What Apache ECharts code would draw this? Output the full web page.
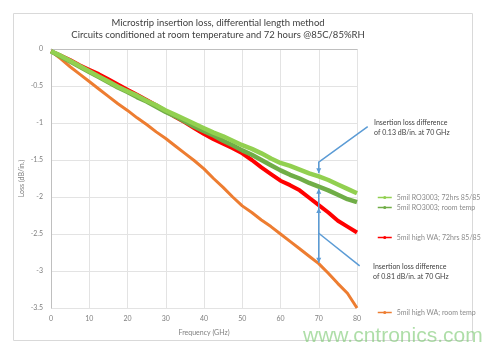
<!DOCTYPE html>
<html><head><meta charset="utf-8">
<script src="https://cdn.jsdelivr.net/npm/echarts@6/dist/echarts.min.js"></script>
<style>html,body{margin:0;padding:0;background:#fff}#c{width:489px;height:352px}</style>
</head><body><div id="c"></div>
<script>
const freq = [0,2.5,5,7.5,10,12.5,15,17.5,20,22.5,25,27.5,30,32.5,35,37.5,40,42.5,45,47.5,50,52.5,55,57.5,60,62.5,65,67.5,70,72.5,75,77.5,80];
const seriesNames = ['5mil RO3003; 72hrs 85/85','5mil RO3003; room temp','5mil high WA; 72hrs 85/85','5mil high WA; room temp'];
const ro72 = [-0.03,-0.09,-0.16,-0.23,-0.30,-0.37,-0.44,-0.51,-0.57,-0.63,-0.70,-0.76,-0.83,-0.89,-0.95,-1.01,-1.07,-1.13,-1.18,-1.24,-1.30,-1.35,-1.41,-1.48,-1.54,-1.58,-1.63,-1.68,-1.72,-1.77,-1.83,-1.89,-1.95];
const roRoom = [-0.03,-0.10,-0.17,-0.24,-0.31,-0.38,-0.45,-0.52,-0.58,-0.65,-0.71,-0.78,-0.85,-0.91,-0.98,-1.05,-1.11,-1.17,-1.24,-1.30,-1.37,-1.43,-1.50,-1.57,-1.64,-1.70,-1.75,-1.81,-1.86,-1.91,-1.97,-2.03,-2.07];
const wa72 = [-0.03,-0.09,-0.15,-0.22,-0.28,-0.34,-0.41,-0.48,-0.55,-0.62,-0.69,-0.76,-0.84,-0.92,-0.99,-1.07,-1.15,-1.22,-1.28,-1.34,-1.41,-1.50,-1.60,-1.69,-1.78,-1.84,-1.91,-2.01,-2.11,-2.21,-2.32,-2.40,-2.48];
const waRoom = [-0.03,-0.13,-0.24,-0.34,-0.44,-0.54,-0.64,-0.74,-0.83,-0.93,-1.02,-1.12,-1.21,-1.31,-1.41,-1.51,-1.62,-1.75,-1.87,-2.00,-2.12,-2.21,-2.31,-2.40,-2.50,-2.60,-2.70,-2.80,-2.90,-3.03,-3.17,-3.30,-3.50];
const xTicks = [0,10,20,30,40,50,60,70,80];
const yTicks = [0,-0.5,-1,-1.5,-2,-2.5,-3,-3.5];
const titleLines = ['Microstrip insertion loss, differential length method','Circuits conditioned at room temperature and 72 hours @85C/85%RH'];
const noteUpper = ['Insertion loss difference','of 0.13 dB/in. at 70 GHz'];
const noteLower = ['Insertion loss difference','of 0.81 dB/in. at 70 GHz'];
// annotation anchors in data units [GHz, dB/in.]
const upperPath = [[82.8,-1.05],[70,-1.53],[70,-1.68]];
const lowerVertical = [[70,-1.89],[70,-2.89]];
const lowerArrowUp = [[70,-1.89],[70,-2.15]];
const lowerArrowDown = [[70,-2.89]];
const lowerConnector = [[70,-2.49],[80.7,-2.93]];

const colors = ['#92d050','#70ad47','#ff0000','#ed7d31'];
const widths = [4.5,4.5,4,3];
const FONT = 'Lato, "Open Sans", sans-serif';
const dataSets = [ro72, roRoom, wa72, waRoom];
const legendTops = [193,203,233,308];

const chart = echarts.init(document.getElementById('c'));
const series = dataSets.map((d,i)=>({
  name: seriesNames[i], type:'line', data: freq.map((f,j)=>[f,d[j]]),
  showSymbol:false, symbol:'circle', symbolSize:4, smooth:false,
  lineStyle:{color:colors[i], width:widths[i]}, itemStyle:{color:colors[i]},
  z: [5,4,3,2][i]
}));
const legends = seriesNames.map((n,i)=>({
  data:[n], left:372, top:legendTops[i]-4, itemWidth:14, itemHeight:4, itemGap:4,
  textStyle:{fontSize:7, color:'#8a8a8a', fontFamily:FONT}, selectedMode:false,
  itemStyle:{borderWidth:0}, lineStyle:{width:1.5}
}));
chart.setOption({
  animation:false,
  grid:{left:51,right:132,top:49,bottom:44},
  legend: legends,
  xAxis:{type:'value',min:0,max:80,interval:10,
    axisLine:{show:true,lineStyle:{color:'#bfbfbf'}},axisTick:{show:false},
    splitLine:{show:true,lineStyle:{color:'#e3e3e3'}},
    axisLabel:{color:'#808080',fontSize:7,margin:7,fontFamily:FONT},
    name:'Frequency (GHz)',nameLocation:'middle',nameGap:21,nameMoveOverlap:false,
    nameTextStyle:{fontSize:7,color:'#7f7f7f',fontFamily:FONT}},
  yAxis:{type:'value',min:-3.5,max:0,interval:0.5,
    axisLine:{show:true,lineStyle:{color:'#bfbfbf'}},axisTick:{show:false},
    splitLine:{show:true,lineStyle:{color:'#e3e3e3'}},
    axisLabel:{color:'#808080',fontSize:7,margin:8,fontFamily:FONT},
    name:'Loss (dB/in.)',nameLocation:'middle',nameGap:26,nameMoveOverlap:false,
    nameTextStyle:{fontSize:7,color:'#7f7f7f',fontFamily:FONT}},
  series: series
});

const px = p => chart.convertToPixel({gridIndex:0}, p);
const blue = '#5b9bd5';
const g = [];
g.push({type:'rect',shape:{x:13.5,y:13.5,width:459,height:327},style:{fill:null,stroke:'#d9d9d9',lineWidth:1},silent:true,z:-1});
g.push({type:'text',x:218,y:23,style:{text:titleLines[0],fill:'#404040',font:'9.5px '+FONT,textAlign:'center',textVerticalAlign:'middle'}});
g.push({type:'text',x:218,y:35,style:{text:titleLines[1],fill:'#404040',font:'9.5px '+FONT,textAlign:'center',textVerticalAlign:'middle'}});
function poly(pts){ g.push({type:'polyline',shape:{points:pts.map(px)},style:{stroke:blue,lineWidth:1.5,fill:null},z:10}); }
function arrow(p, dir){ // dir 1 = pointing down, -1 = pointing up
  const [x,y] = px(p);
  g.push({type:'polygon',shape:{points:[[x,y],[x-2.5,y-5*dir],[x+2.5,y-5*dir]]},style:{fill:blue},z:10});
}
poly(upperPath);
arrow(upperPath[2],1);
poly(lowerVertical);
arrow(lowerArrowUp[0],-1);
arrow(lowerArrowUp[1],-1);
arrow(lowerArrowDown[0],1);
poly(lowerConnector);
g.push({type:'text',x:374,y:118,style:{text:noteUpper.join('\n'),font:'7px '+FONT,fill:'#404040',lineHeight:10}});
g.push({type:'text',x:373,y:262,style:{text:noteLower.join('\n'),font:'7px '+FONT,fill:'#404040',lineHeight:10}});
g.push({type:'text',x:303,y:347,style:{text:'www.cntronics.com',font:'21px "Liberation Sans", Arial, sans-serif',fill:'rgba(120,200,110,0.6)',textVerticalAlign:'bottom'},z:20});
chart.setOption({graphic:g});
</script></body></html>
